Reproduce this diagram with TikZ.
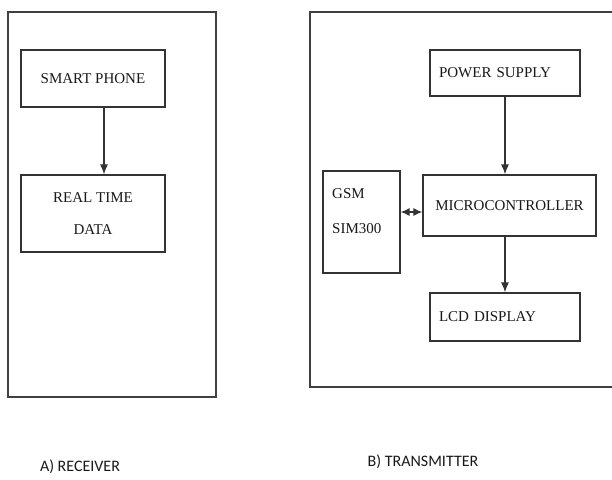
\documentclass[tikz,border=0pt]{standalone}
\usepackage{fontspec}
\setmainfont{Liberation Serif}
\newfontfamily\capfont{Carlito}
\usetikzlibrary{arrows.meta}

\tikzset{
    block/.style={draw=black!80, line width=1.3pt, fill=white, inner sep=0pt,
        font=\fontsize{15}{32}\selectfont, text=black!90},
    frame/.style={draw=black!75, line width=1.5pt},
    link/.style={draw=black!80, line width=1.1pt, -{Latex[length=10pt,width=8pt]}},
    caption/.style={font=\capfont\fontsize{16}{18}\selectfont, text=black!90},
}

\begin{document}
\begin{tikzpicture}[x=1pt, y=-1pt]
    \useasboundingbox (0,0) rectangle (612,479);

    % frames
    \draw[frame] (8,12) rectangle (216,397);
    \draw[frame] (310,12) rectangle (640,387);

    % receiver
    \node[block, minimum width=144pt, minimum height=57pt] (smart) at (93,78.5) {SMART PHONE};
    \node[block, minimum width=144pt, minimum height=77pt, align=center] (rtd) at (93,213.5) {REAL TIME\\DATA};

    % transmitter
    \node[block, minimum width=150pt, minimum height=46pt, text width=132pt, align=left] (power) at (505,73) {POWER SUPPLY};
    \node[block, minimum width=173pt, minimum height=61pt] (micro) at (509.5,205.5) {MICROCONTROLLER};
    \node[block, minimum width=77pt, minimum height=102pt] (gsm) at (361.5,222) {};
    \node[font=\fontsize{15}{35}\selectfont, text=black!90, align=left, anchor=north west, inner sep=0pt] (gsmtext) at (332,188) {GSM\\SIM300};
    \node[block, minimum width=150pt, minimum height=48pt, text width=132pt, align=left] (lcd) at (505,317) {LCD DISPLAY};

    \draw[link] ([xshift=11pt]smart.south) -- ([xshift=11pt]rtd.north);
    \draw[link] (power.south) -- (power.south |- micro.north);
    \draw[link] (lcd.north |- micro.south) -- (lcd.north);
    \draw[link, {Latex[length=9pt,width=8pt]}-{Latex[length=9pt,width=8pt]}] ([yshift=10pt]gsm.east) -- ([yshift=10pt]gsm.east -| micro.west);

    % captions
    \node[caption] (recv) at (80,467) {A) RECEIVER};
    \node[caption] (transm) at (423,462) {B) TRANSMITTER};
\end{tikzpicture}
\end{document}
